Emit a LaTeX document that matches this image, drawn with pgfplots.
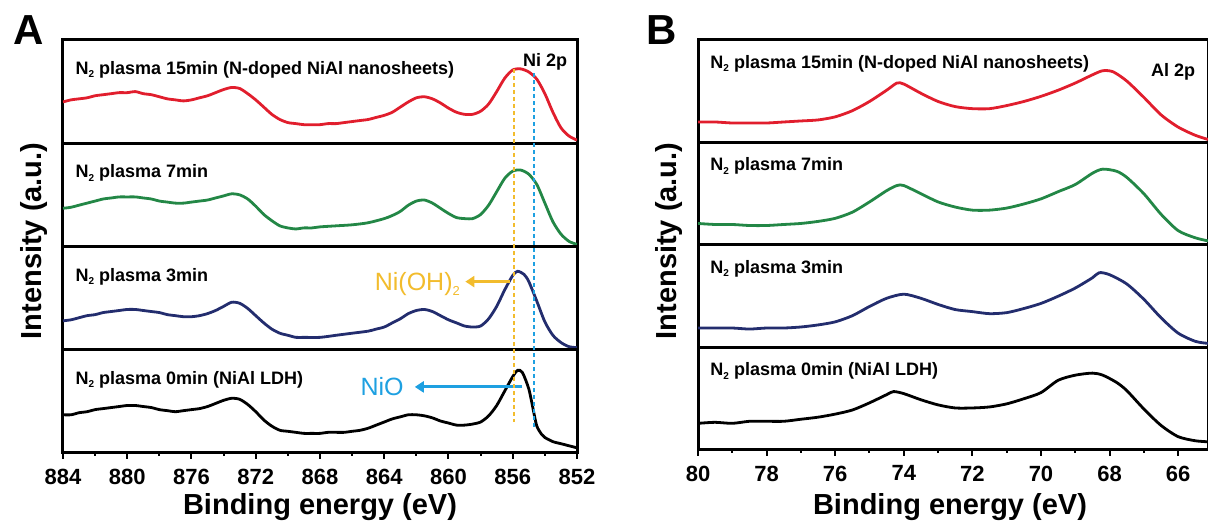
\documentclass[border=0pt]{standalone}
\usepackage{pgfplots}
\pgfplotsset{compat=1.18}
\usepackage{fontspec}
\setmainfont{Liberation Sans}
\usetikzlibrary{arrows.meta}
\definecolor{cRed}{RGB}{225,30,45}
\definecolor{cGreen}{RGB}{35,135,70}
\definecolor{cBlue}{RGB}{35,45,110}
\definecolor{cOrange}{RGB}{242,188,45}
\definecolor{cCyan}{RGB}{30,160,225}
\pgfplotsset{
  panel/.style={scale only axis, ymin=0, ymax=1, ytick=\empty, x dir=reverse,
    line width=3bp, axis line style={line width=3bp}, anchor=south west,
    xtick=\empty, minor xtick={}},
  panelA/.style={panel, width=514bp, height=103.25bp, xmin=852, xmax=884},
  panelB/.style={panel, width=510bp, height=102.5bp, xmin=65.13, xmax=80},
  bottomax/.style={xtick pos=left, tick align=outside,
    major tick length=6bp, minor tick length=3bp,
    every tick/.style={black, line width=2bp},
    /pgf/number format/assume math mode=true,
    xticklabel style={font=\fontsize{22bp}{24bp}\selectfont\bfseries, yshift=-5bp}},
}
\tikzset{
  lbl/.style={anchor=west, font=\fontsize{18bp}{20bp}\selectfont\bfseries},
  crv/.style={line width=2.8bp, smooth, tension=0.45},
}
\newcommand{\Ntwo}{N\raisebox{-0.35ex}{\fontsize{10bp}{10bp}\selectfont 2}}
\begin{document}
\begin{tikzpicture}[x=1bp,y=1bp]
\useasboundingbox (0,0) rectangle (1208,528);
% ================= Panel A =================
\begin{axis}[panelA, at={(63bp,384.75bp)}]
\addplot[crv, cRed] coordinates {
(884,0.40)(883.5,0.42)(883,0.43)(882.5,0.44)(882,0.46)(881.5,0.47)(881,0.48)(880.5,0.49)(880,0.49)(879.5,0.50)(879,0.48)(878.5,0.47)(878,0.45)(877.5,0.43)(877,0.42)(876.5,0.41)(876,0.42)(875.5,0.44)(875,0.46)(874.5,0.49)(874,0.52)(873.5,0.54)(873,0.53)(872.5,0.48)(872,0.42)(871.5,0.35)(871,0.28)(870.5,0.23)(870,0.20)(869.5,0.19)(869,0.18)(868.5,0.18)(868,0.18)(867.5,0.19)(867,0.19)(866.5,0.20)(866,0.21)(865.5,0.22)(865,0.23)(864.5,0.25)(864,0.27)(863.5,0.30)(863,0.35)(862.5,0.40)(862,0.44)(861.5,0.45)(861,0.43)(860.5,0.39)(860,0.34)(859.5,0.30)(859,0.28)(858.5,0.28)(858,0.31)(857.5,0.38)(857,0.50)(856.5,0.63)(856,0.71)(855.5,0.72)(855,0.69)(854.5,0.62)(854,0.48)(853.5,0.30)(853,0.15)(852.5,0.07)(852,0.03)};
\node[lbl] at (rel axis cs:0.015,0.71) {\Ntwo{} plasma 15min (N-doped NiAl nanosheets)};
\node[anchor=east, font=\fontsize{18bp}{20bp}\selectfont\bfseries] at (rel axis cs:0.99,0.79) {Ni 2p};
\coordinate (oTop) at (axis cs:855.9,0.72);
\coordinate (cTop) at (axis cs:854.7,0.68);
\end{axis}
\begin{axis}[panelA, at={(63bp,281.5bp)}]
\addplot[crv, cGreen] coordinates {
(884,0.37)(883.5,0.38)(883,0.40)(882.5,0.42)(882,0.44)(881.5,0.46)(881,0.47)(880.5,0.48)(880,0.48)(879.5,0.48)(879,0.47)(878.5,0.46)(878,0.44)(877.5,0.43)(877,0.42)(876.5,0.42)(876,0.43)(875.5,0.44)(875,0.45)(874.5,0.47)(874,0.49)(873.5,0.51)(873,0.50)(872.5,0.46)(872,0.39)(871.5,0.31)(871,0.25)(870.5,0.20)(870,0.18)(869.5,0.17)(869,0.18)(868.5,0.18)(868,0.19)(867,0.20)(866,0.21)(865,0.23)(864,0.27)(863.5,0.30)(863,0.34)(862.5,0.40)(862,0.44)(861.5,0.45)(861,0.42)(860.5,0.37)(860,0.32)(859.5,0.28)(859,0.27)(858.5,0.27)(858,0.31)(857.5,0.40)(857,0.53)(856.5,0.66)(856,0.73)(855.5,0.74)(855,0.70)(854.5,0.60)(854,0.42)(853.5,0.24)(853,0.12)(852.5,0.05)(852,0.02)};
\node[lbl] at (rel axis cs:0.015,0.71) {\Ntwo{} plasma 7min};
\end{axis}
\begin{axis}[panelA, at={(63bp,178.25bp)}]
\addplot[crv, cBlue] coordinates {
(884,0.28)(883.5,0.29)(883,0.31)(882.5,0.33)(882,0.34)(881.5,0.36)(881,0.37)(880.5,0.38)(880,0.39)(879.5,0.39)(879,0.38)(878.5,0.37)(878,0.36)(877.5,0.34)(877,0.33)(876.5,0.32)(876,0.32)(875.5,0.33)(875,0.35)(874.5,0.38)(874,0.42)(873.5,0.46)(873,0.45)(872.5,0.40)(872,0.33)(871.5,0.26)(871,0.20)(870.5,0.16)(870,0.14)(869.5,0.12)(869,0.12)(868,0.12)(867,0.14)(866,0.16)(865,0.18)(864.5,0.20)(864,0.22)(863.5,0.26)(863,0.30)(862.5,0.35)(862,0.38)(861.5,0.39)(861,0.37)(860.5,0.33)(860,0.29)(859.5,0.26)(859,0.23)(858.5,0.22)(858,0.23)(857.5,0.30)(857,0.42)(856.5,0.58)(856,0.72)(855.7,0.76)(855.3,0.73)(855,0.66)(854.5,0.47)(854,0.27)(853.5,0.14)(853,0.07)(852.5,0.03)(852,0.02)};
\node[lbl] at (rel axis cs:0.015,0.71) {\Ntwo{} plasma 3min};
\draw[cOrange, line width=3bp, -{Triangle[length=9bp,width=11bp]}] (axis cs:856.2,0.66) -- (axis cs:858.95,0.66);
\node[anchor=east, text=cOrange, font=\fontsize{25bp}{27bp}\selectfont, inner sep=0pt] at (axis cs:859.2,0.64) {Ni(OH)\raisebox{-0.4ex}{\fontsize{13bp}{13bp}\selectfont 2}};
\end{axis}
\begin{axis}[panelA, bottomax, at={(63bp,75bp)}, xtick={852,856,...,884}, minor x tick num=1]
\addplot[crv, black] coordinates {
(884,0.37)(883.5,0.37)(883,0.39)(882.5,0.40)(882,0.42)(881.5,0.43)(881,0.44)(880.5,0.45)(880,0.46)(879.5,0.46)(879,0.45)(878.5,0.44)(878,0.42)(877.5,0.41)(877,0.40)(876.5,0.41)(876,0.42)(875.5,0.43)(875,0.45)(874.5,0.48)(874,0.51)(873.5,0.53)(873,0.52)(872.5,0.47)(872,0.40)(871.5,0.32)(871,0.26)(870.5,0.22)(870,0.21)(869.5,0.20)(869,0.19)(868.5,0.19)(868,0.19)(867.5,0.20)(867,0.20)(866.5,0.20)(866,0.21)(865.5,0.22)(865,0.24)(864.5,0.27)(864,0.30)(863.5,0.33)(863,0.35)(862.5,0.37)(862,0.37)(861.5,0.36)(861,0.34)(860.5,0.31)(860,0.29)(859.5,0.27)(859,0.27)(858.5,0.28)(858,0.30)(857.5,0.36)(857,0.46)(856.5,0.60)(856,0.74)(855.7,0.80)(855.4,0.78)(855,0.62)(854.7,0.40)(854.5,0.26)(854.2,0.18)(854,0.15)(853.5,0.11)(853,0.09)(852.5,0.07)(852,0.05)};
\node[lbl] at (rel axis cs:0.015,0.71) {\Ntwo{} plasma 0min (NiAl LDH)};
\draw[cCyan, line width=3bp, -{Triangle[length=9bp,width=11bp]}] (axis cs:855.4,0.64) -- (axis cs:862.1,0.64);
\node[anchor=east, text=cCyan, font=\fontsize{25bp}{27bp}\selectfont, inner sep=0pt] at (axis cs:862.7,0.64) {NiO};
\coordinate (oBot) at (axis cs:855.9,0.30);
\coordinate (cBot) at (axis cs:854.7,0.25);
\end{axis}
\draw[cOrange, line width=2bp, dash pattern=on 4bp off 3bp] (oTop) -- (oBot);
\draw[cCyan, line width=2bp, dash pattern=on 4bp off 3bp] (cTop) -- (cBot);
\node[rotate=90, font=\fontsize{29bp}{31bp}\selectfont\bfseries] at (34,287) {Intensity (a.u.)};
\node[font=\fontsize{29bp}{31bp}\selectfont\bfseries] at (320,21) {Binding energy (eV)};
\node[font=\fontsize{42bp}{44bp}\selectfont\bfseries] at (29,498) {A};
% ================= Panel B =================
\begin{axis}[panelB, at={(698bp,385.5bp)}]
\addplot[crv, cRed] coordinates {
(80,0.20)(79.5,0.20)(79,0.19)(78.5,0.19)(78,0.19)(77.5,0.20)(77,0.21)(76.5,0.22)(76,0.25)(75.5,0.31)(75,0.40)(74.5,0.51)(74.2,0.58)(74,0.57)(73.5,0.48)(73,0.40)(72.5,0.35)(72,0.33)(71.5,0.33)(71,0.36)(70.5,0.40)(70,0.45)(69.5,0.51)(69,0.58)(68.5,0.66)(68.2,0.70)(67.9,0.69)(67.5,0.60)(67,0.44)(66.5,0.27)(66,0.15)(65.5,0.07)(65.13,0.03)};
\node[lbl] at (rel axis cs:0.015,0.77) {\Ntwo{} plasma 15min (N-doped NiAl nanosheets)};
\node[anchor=east, font=\fontsize{18bp}{20bp}\selectfont\bfseries] at (rel axis cs:0.984,0.69) {Al 2p};
\end{axis}
\begin{axis}[panelB, at={(698bp,283bp)}]
\addplot[crv, cGreen] coordinates {
(80,0.21)(79.5,0.20)(79,0.20)(78.5,0.19)(78,0.19)(77.5,0.20)(77,0.21)(76.5,0.23)(76,0.26)(75.5,0.32)(75,0.42)(74.5,0.53)(74.2,0.58)(74,0.58)(73.5,0.50)(73,0.42)(72.5,0.37)(72,0.34)(71.5,0.34)(71,0.36)(70.5,0.40)(70,0.45)(69.5,0.52)(69,0.59)(68.5,0.70)(68.2,0.74)(67.8,0.72)(67.5,0.66)(67,0.50)(66.5,0.30)(66,0.14)(65.5,0.07)(65.13,0.04)};
\node[lbl] at (rel axis cs:0.015,0.77) {\Ntwo{} plasma 7min};
\end{axis}
\begin{axis}[panelB, at={(698bp,180.5bp)}]
\addplot[crv, cBlue] coordinates {
(80,0.19)(79.5,0.19)(79,0.19)(78.5,0.18)(78,0.19)(77.5,0.19)(77,0.20)(76.5,0.22)(76,0.25)(75.5,0.31)(75,0.40)(74.5,0.48)(74,0.52)(73.5,0.48)(73,0.42)(72.5,0.37)(72,0.35)(71.5,0.33)(71,0.34)(70.5,0.38)(70,0.43)(69.5,0.50)(69,0.58)(68.5,0.68)(68.3,0.73)(68,0.71)(67.5,0.62)(67,0.47)(66.5,0.29)(66,0.14)(65.5,0.06)(65.13,0.04)};
\node[lbl] at (rel axis cs:0.015,0.77) {\Ntwo{} plasma 3min};
\end{axis}
\begin{axis}[panelB, bottomax, at={(698bp,78bp)}, xtick={66,68,...,80}, minor x tick num=1]
\addplot[crv, black] coordinates {
(80,0.26)(79.5,0.27)(79,0.26)(78.5,0.28)(78,0.28)(77.5,0.28)(77,0.30)(76.5,0.32)(76,0.35)(75.5,0.39)(75,0.46)(74.5,0.54)(74.3,0.57)(74,0.55)(73.5,0.49)(73,0.44)(72.5,0.41)(72,0.41)(71.5,0.42)(71,0.45)(70.5,0.50)(70,0.56)(69.5,0.68)(69,0.73)(68.5,0.75)(68.2,0.73)(67.8,0.66)(67.5,0.58)(67,0.40)(66.5,0.24)(66,0.13)(65.5,0.09)(65.13,0.08)};
\node[lbl] at (rel axis cs:0.015,0.77) {\Ntwo{} plasma 0min (NiAl LDH)};
\end{axis}
\node[rotate=90, font=\fontsize{29bp}{31bp}\selectfont\bfseries] at (669,287) {Intensity (a.u.)};
\node[font=\fontsize{29bp}{31bp}\selectfont\bfseries] at (950,21) {Binding energy (eV)};
\node[font=\fontsize{42bp}{44bp}\selectfont\bfseries] at (662,498) {B};
\end{tikzpicture}
\end{document}
